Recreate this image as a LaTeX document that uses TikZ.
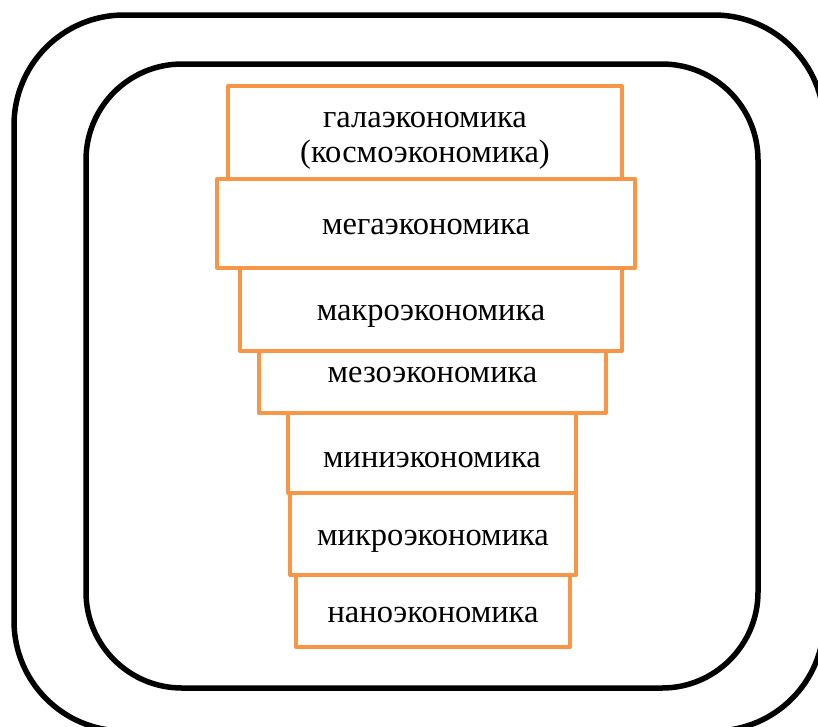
\documentclass[tikz,border=0pt]{standalone}
\usepackage{fontspec}
\setmainfont{Liberation Serif}
\usetikzlibrary{positioning}
\definecolor{ecoorange}{HTML}{F79646}

\begin{document}
\begin{tikzpicture}[x=1pt,y=-1pt,
        frame/.style={draw=black,line width=5.5pt},
        level/.style={draw=ecoorange,fill=white,line width=4pt,line join=round,anchor=north west,
                      outer sep=0pt,inner sep=0pt,align=center,text height=22pt,text depth=0pt,
                      font=\fontsize{32.5}{35}\selectfont}
      ]

  \useasboundingbox (0,0) rectangle (818,726);
  \clip (0,0) rectangle (818,726);

  % the two rounded frames
  \draw[frame,rounded corners=110pt] (14,15) rectangle (824,731);
  \draw[frame,rounded corners=96pt] (86,64) rectangle (758,688);

  % the levels, top to bottom
  \node (gala)  [level,minimum width=394pt,minimum height=109pt,text height=,text depth=] at (228,86) {галаэкономика\\(космоэкономика)};
  \node (mega)  [level,minimum width=418pt,minimum height=89pt] at (217,179) {мегаэкономика};
  \node (makro) [level,minimum width=382pt,minimum height=83pt] at (240,268) {макроэкономика};
  \node (mezo)  [level,minimum width=347pt,minimum height=62pt,text depth=21pt] at (259,351) {мезоэкономика};
  \node (mini)  [level,minimum width=288pt,minimum height=80pt,text height=29pt] at (288,413) {миниэкономика};
  \node (mikro) [level,minimum width=286pt,minimum height=82pt] at (290,493) {микроэкономика};
  \node (nano)  [level,minimum width=274pt,minimum height=72pt] at (296,575) {наноэкономика};

\end{tikzpicture}
\end{document}
